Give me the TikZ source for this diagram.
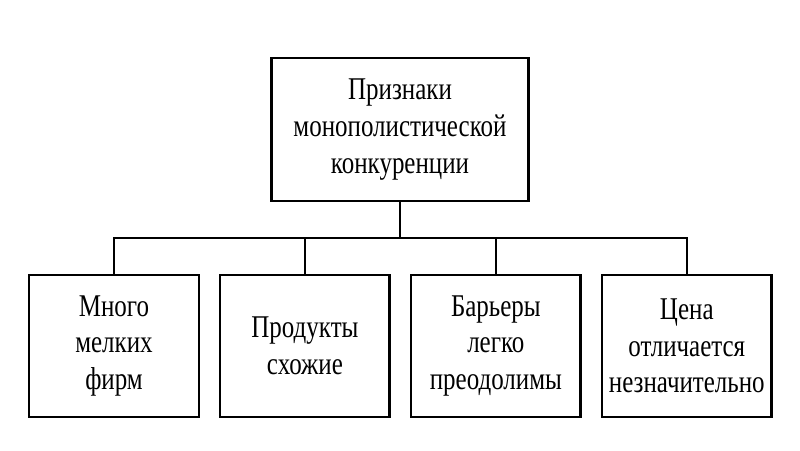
\documentclass[tikz,border=0pt]{standalone}
\usepackage{fontspec}
\setmainfont[FakeStretch=0.79]{Liberation Serif}
\usetikzlibrary{positioning,calc}

\begin{document}
\begin{tikzpicture}[
  box/.style={draw, line width=1.8pt, align=center, inner sep=1pt, font=\fontsize{22.5}{26}\selectfont},
  hd/.style={box, minimum width=6.42cm, minimum height=3.58cm},
  item/.style={box, minimum width=4.24cm, minimum height=3.56cm},
  wire/.style={line width=1.3pt}]
\useasboundingbox (0,0) rectangle (20,11.25);
\node[hd] (sign) at (10,8.01) {Признаки\\монополистической\\конкуренции};
\node[item] (firms) at (2.85,2.6) {Много\\мелких\\фирм};
\node[item, right=0.47cm of firms] (goods) {Продукты\\схожие};
\node[item, right=0.47cm of goods] (entry) {Барьеры\\легко\\преодолимы};
\node[item, right=0.47cm of entry] (price) {Цена\\отличается\\незначительно};
% common bus under the head box
\coordinate (bus) at (10,5.3);
\draw[wire] (sign.south) -- (sign.south |- bus);
\draw[wire] (firms.north) -- (firms.north |- bus) -- (price.north |- bus) -- (price.north);
\foreach \b in {goods,entry}
  \draw[wire] (\b.north) -- (\b.north |- bus);
\end{tikzpicture}
\end{document}
